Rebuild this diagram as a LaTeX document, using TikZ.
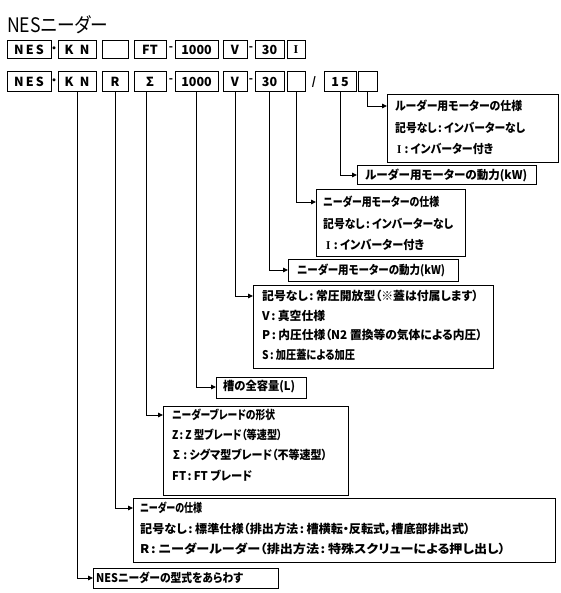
\documentclass[tikz,border=0pt]{standalone}
\usepackage{fontspec}
\setmainfont{Noto Sans CJK JP}[RawFeature=+palt]
\newfontfamily\romanI{Liberation Serif}
\usetikzlibrary{arrows.meta}
\newcommand\rowbox[6]{\node[rb, minimum width={(#3-#2)*1pt}, minimum height={(#5-#4)*1pt}] (#1) at ({(#2+#3)/2},{(#4+#5)/2}) {#6};}
\newcommand\bigbox[5]{\node[bx, minimum width={(#4-#2)*1pt}, minimum height={(#5-#3)*1pt}] (#1) at (#2,#3) {};}
\newcommand\cl{\kern1.5pt:\kern2.5pt}
\newcommand\RI{{\romanI\fontsize{12}{12}\selectfont I}}
\newsavebox\fitbox
\newcommand\fitw[2]{\sbox\fitbox{#2}\scalebox{\fpeval{#1/\the\wd\fitbox}}[1]{\usebox\fitbox}}
\begin{document}
\begin{tikzpicture}[x=1pt,y=-1pt,
  rb/.style={draw, line width=1pt, inner sep=0pt, font=\fontsize{12.5}{12.5}\selectfont\bfseries},
  bx/.style={draw, line width=1pt, inner sep=0pt, anchor=north west},
  lbl/.style={inner sep=0pt, anchor=west, font=\fontsize{12}{12}\selectfont\bfseries},
  conn/.style={line width=0.9pt, -{Triangle[length=5pt,width=4.5pt]}},
  sepm/.style={inner sep=0pt, font=\fontsize{11}{11}\selectfont\bfseries}]
\useasboundingbox (0,0) rectangle (560,593);
% title
\node[inner sep=0pt, anchor=base west, font=\fontsize{20}{20}\selectfont] (title) at (7,33) {\fitw{101}{NESニーダー}};
% row 1
\rowbox{aNES}{7}{51}{41}{59}{N\,E\,S}
\node[sepm] (aDot) at (54,50) {・};
\rowbox{aKN}{58}{96}{41}{59}{K\enspace N}
\rowbox{aE}{102}{128}{41}{59}{}
\rowbox{aFT}{134}{166}{41}{59}{FT}
\node[sepm] (aDa) at (171,49) {-};
\rowbox{aK}{175}{218}{41}{59}{1000}
\rowbox{aV}{223}{247}{41}{59}{V}
\node[sepm] (aDb) at (251,49) {-};
\rowbox{aT}{255}{284}{41}{59}{30}
\rowbox{aI}{287}{305}{41}{59}{\RI}
% row 2
\rowbox{bNES}{7}{51}{72}{92}{N\,E\,S}
\node[sepm] (bDot) at (54,82) {・};
\rowbox{bKN}{58}{96}{72}{92}{K\enspace N}
\rowbox{bR}{102}{128}{72}{92}{R}
\rowbox{bS}{134}{166}{72}{92}{Σ}
\node[sepm] (bDa) at (171,81) {-};
\rowbox{bK}{175}{218}{72}{92}{1000}
\rowbox{bV}{223}{247}{72}{92}{V}
\node[sepm] (bDb) at (251,81) {-};
\rowbox{bT}{255}{284}{72}{92}{30}
\rowbox{bE1}{287}{305}{72}{92}{}
\node[sepm] (bSl) at (314,82) {/};
\rowbox{bF}{324}{356}{72}{92}{1\,5}
\rowbox{bE2}{358}{377}{72}{92}{}
% description boxes
\bigbox{b1}{387}{94}{558}{162}
\node[lbl] (b1a) at (395,106) {\fitw{127}{ルーダー用モーターの仕様}};
\node[lbl] (b1b) at (395,128) {\fitw{130}{記号なし\cl インバーターなし}};
\node[lbl] (b1c) at (397,149) {\fitw{96}{\RI\kern2pt\cl インバーター付き}};
\bigbox{b2}{357}{165}{536}{184}
\node[lbl] (b2a) at (365,175) {\fitw{162}{ルーダー用モーターの動力(kW)}};
\bigbox{b3}{316}{189}{465}{256}
\node[lbl] (b3a) at (323,202) {\fitw{116}{ニーダー用モーターの仕様}};
\node[lbl] (b3b) at (323,224) {\fitw{130}{記号なし\cl インバーターなし}};
\node[lbl] (b3c) at (326,245) {\fitw{98}{\RI\kern2pt\cl インバーター付き}};
\bigbox{b4}{288}{259}{458}{281}
\node[lbl] (b4a) at (297,270) {\fitw{148}{ニーダー用モーターの動力(kW)}};
\bigbox{b5}{253}{285}{493}{368}
\node[lbl] (b5a) at (262,296) {\fitw{216}{記号なし\cl 常圧開放型（※蓋は付属します）}};
\node[lbl] (b5b) at (262,316) {\fitw{63}{V\cl 真空仕様}};
\node[lbl] (b5c) at (262,335) {\fitw{220}{P\cl 内圧仕様（N2 置換等の気体による内圧）}};
\node[lbl] (b5d) at (262,355) {\fitw{93}{S\cl 加圧蓋による加圧}};
\bigbox{b6}{216}{377}{306}{398}
\node[lbl] (b6a) at (223,387) {\fitw{72}{槽の全容量(L)}};
\bigbox{b7}{163}{406}{348}{495}
\node[lbl] (b7a) at (172,415) {\fitw{103}{ニーダーブレードの形状}};
\node[lbl] (b7b) at (172,435) {\fitw{110}{Z\cl Z 型ブレード（等速型）}};
\node[lbl] (b7c) at (173,455) {\fitw{154}{Σ\kern2pt\cl シグマ型ブレード（不等速型）}};
\node[lbl] (b7d) at (172,476) {\fitw{80}{FT\cl FT ブレード}};
\bigbox{b8}{133}{498}{555}{562}
\node[lbl] (b8a) at (140,508) {\fitw{62}{ニーダーの仕様}};
\node[lbl] (b8b) at (140,529) {\fitw{330}{記号なし\cl 標準仕様（排出方法\cl 槽横転・反転式，槽底部排出式）}};
\node[lbl] (b8c) at (140,549) {\fitw{365}{R\cl ニーダールーダー（排出方法\cl 特殊スクリューによる押し出し）}};
\bigbox{b9}{93}{568}{278}{588}
\node[lbl] (b9a) at (96,578) {\fitw{147}{NESニーダーの型式をあらわす}};
% connectors
\draw[conn] (bE2.south) |- (b1.west |- b1a.west);
\draw[conn] (bF.south) |- (b2.west |- b2a.west);
\draw[conn] (bE1.south) |- (b3.west |- b3a.west);
\draw[conn] (bT.south) |- (b4.west |- b4a.west);
\draw[conn] (bV.south) |- (b5.west |- b5a.west);
\draw[conn] (bK.south) |- (b6.west |- b6a.west);
\draw[conn] ([xshift=-4pt]bS.south) |- (b7.west |- b7a.west);
\draw[conn] (bR.south) |- (b8.west |- b8a.west);
\draw[conn] (bKN.south) |- (b9.west |- b9a.west);
\end{tikzpicture}
\end{document}
